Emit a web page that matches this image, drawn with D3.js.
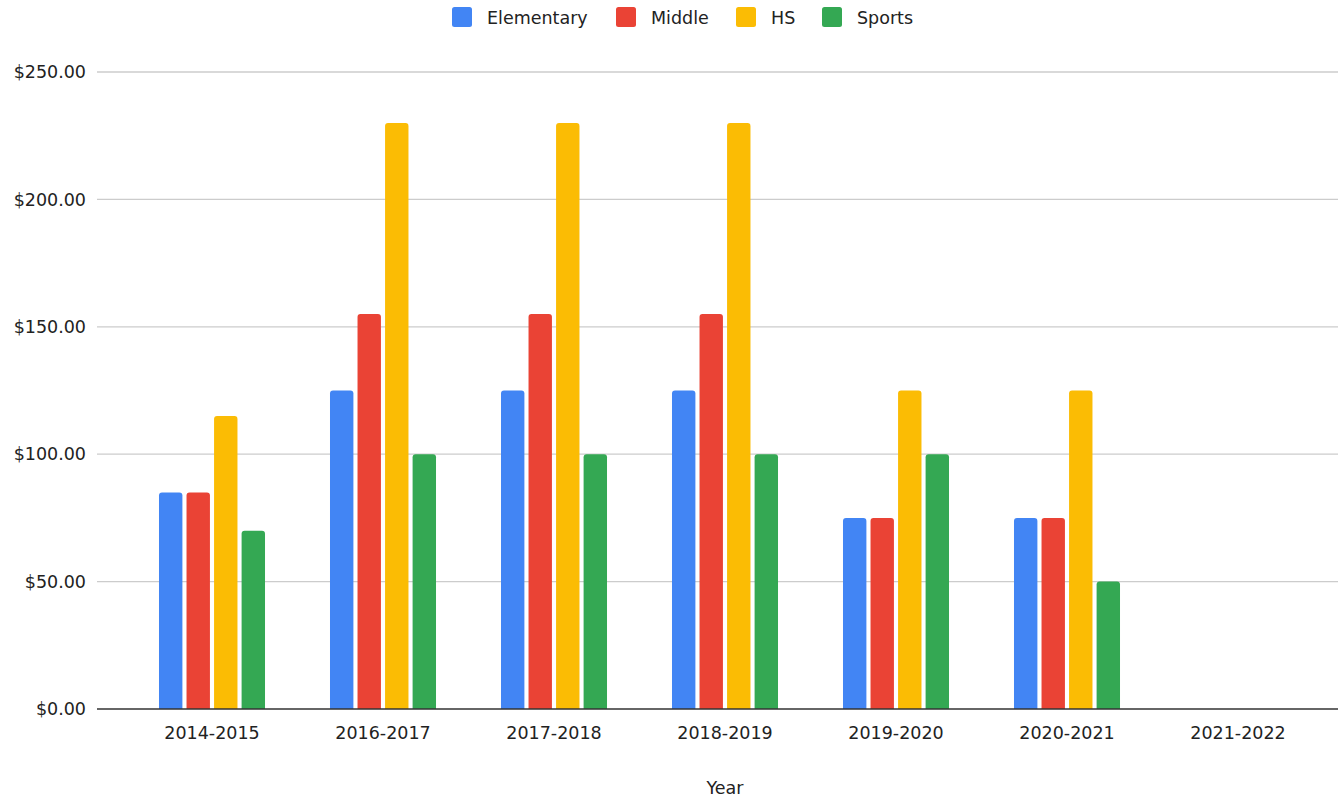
<!DOCTYPE html>
<html><head><meta charset="utf-8">
<script src="https://cdn.jsdelivr.net/npm/d3@7"></script>
<style>body{margin:0;background:#fff}svg{display:block}text{font-family:"DejaVu Sans",Verdana,sans-serif;fill:#222}</style>
</head><body><svg id="c" width="1338" height="798"></svg>
<script>
const categories = ["2014-2015","2016-2017","2017-2018","2018-2019","2019-2020","2020-2021","2021-2022"];
const seriesNames = ["Elementary","Middle","HS","Sports"];
const elementary = [85,125,125,125,75,75,null];
const middle = [85,155,155,155,75,75,null];
const hs = [115,230,230,230,125,125,null];
const sports = [70,100,100,100,100,50,null];
const colors = ["#4285F4","#EA4335","#FBBC04","#34A853"];
const yTicks = [0,50,100,150,200,250];
const xTitle = "Year";

const seriesValues = [elementary, middle, hs, sports];
const svg = d3.select("#c");
const plotLeft = 97, plotRight = 1338, plotTop = 72, plotBottom = 709;

const x = d3.scaleBand().domain(categories).range([126.5, 1323.5]).paddingInner(0).paddingOuter(0);
const xs = d3.scaleBand().domain(seriesNames).range([0, x.bandwidth()*0.62]).paddingInner(0.15);
const y = d3.scaleLinear().domain([0,250]).range([plotBottom, plotTop]);
const fmt = d => "$" + d3.format(",.2f")(d);

// gridlines
svg.append("g").selectAll("line").data(yTicks.filter(d=>d>0)).join("line")
  .attr("x1", plotLeft).attr("x2", plotRight)
  .attr("y1", d=>y(d)).attr("y2", d=>y(d))
  .attr("stroke", "#cccccc").attr("stroke-width", 1.3);

// y labels
svg.append("g").selectAll("text").data(yTicks).join("text")
  .attr("x", 86).attr("y", d=>y(d)).attr("dy","0.35em")
  .attr("text-anchor","end").attr("font-size","17.5px").text(fmt);

// bars
const groupOffset = (x.bandwidth() - x.bandwidth()*0.62)/2;
const r = 3;
function barPath(x0, w, y0, y1){
  const rr = Math.min(r, w/2, (y1-y0));
  return `M${x0},${y1}V${y0+rr}Q${x0},${y0} ${x0+rr},${y0}H${x0+w-rr}Q${x0+w},${y0} ${x0+w},${y0+rr}V${y1}Z`;
}
seriesNames.forEach((s,si)=>{
  svg.append("g").selectAll("path")
    .data(categories.map((c,i)=>({c, v: seriesValues[si][i]})).filter(d=>d.v!=null && d.v>0))
    .join("path")
    .attr("fill", colors[si])
    .attr("d", d=>{
      const bx = x(d.c) + groupOffset + xs(s);
      return barPath(bx, xs.bandwidth(), y(d.v), y(0));
    });
});

// baseline
svg.append("line").attr("x1", plotLeft).attr("x2", plotRight).attr("y1", y(0)).attr("y2", y(0))
  .attr("stroke","#333").attr("stroke-width",1.5);

// x labels
svg.append("g").selectAll("text").data(categories).join("text")
  .attr("x", d=>x(d)+x.bandwidth()/2).attr("y", 733).attr("dy","0.35em")
  .attr("text-anchor","middle").attr("font-size","17.5px").text(d=>d);

// x title
svg.append("text").attr("x", 725).attr("y", 788).attr("dy","0.35em")
  .attr("text-anchor","middle").attr("font-size","17.5px").text(xTitle);

// legend
const legendX = [452, 616, 736, 822];
const lg = svg.append("g");
seriesNames.forEach((s,i)=>{
  lg.append("rect").attr("x", legendX[i]).attr("y", 7).attr("width", 20).attr("height", 20)
    .attr("rx", 2.5).attr("fill", colors[i]);
  lg.append("text").attr("x", legendX[i]+35).attr("y", 17.5).attr("dy","0.35em")
    .attr("font-size","17.5px").text(s);
});
</script></body></html>
